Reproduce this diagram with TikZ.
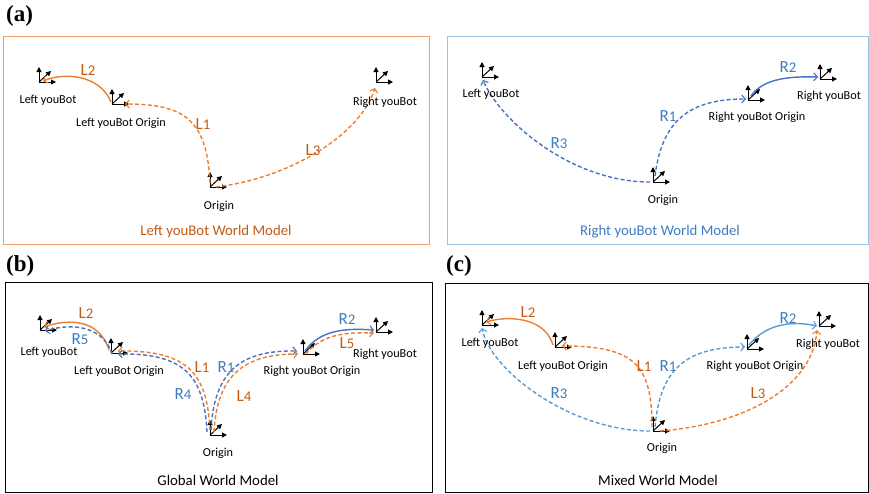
\documentclass[tikz,border=0pt]{standalone}
\usepackage{fontspec}
\setmainfont{Carlito}
\newfontfamily\panelfont{Liberation Serif}
\usetikzlibrary{arrows.meta,calc}
\definecolor{lor}{HTML}{ED7D31}
\definecolor{lort}{HTML}{C55A11}
\definecolor{lbl}{HTML}{4472C4}
\definecolor{lblt}{HTML}{3D7CC2}
\definecolor{lbc}{HTML}{5B9BD5}
\definecolor{lborder}{HTML}{F0A06A}
\definecolor{bborder}{HTML}{9DC3E6}
\newcommand\plab[2]{#1{\fontsize{14.8}{14.8}\selectfont #2}}
\tikzset{
  farrow/.style={line width=1pt,-{Triangle[length=5pt,width=5pt]}},
  frm/.pic={\draw[farrow] (0,0)--(0,-15); \draw[farrow] (0,0)--(17,0); \draw[farrow] (0,0)--(12,-11);},
  tip/.style={-{Straight Barb[length=3.5pt,width=8pt,line width=1.1pt]}},
  solidc/.style={line width=1.4pt,tip},
  dashc/.style={line width=1.4pt,dash pattern=on 4pt off 2.4pt,tip},
  lab/.style={font=\fontsize{12.2}{13}\selectfont,text=black,inner sep=0pt},
  plabel/.style={font=\fontsize{17}{17}\selectfont,inner sep=0pt},
  title/.style={font=\fontsize{14.8}{15}\selectfont,inner sep=0pt},
  panel/.style={font=\panelfont\bfseries\fontsize{23}{23}\selectfont,inner sep=0pt,anchor=west}
}
\begin{document}
\begin{tikzpicture}[x=1pt,y=-1pt]
\useasboundingbox (0,0) rectangle (869,493);
% panel letters
\node[panel] (pa) at (6,16) {(a)};
\node[panel] (pb) at (6,266) {(b)};
\node[panel] (pc) at (446,266) {(c)};
% ---------------- panel (a) left
\draw[lborder,line width=1pt] (3,36) rectangle (429,244);
\coordinate (aLY) at (39,82);
\coordinate (aLYO) at (112,104);
\coordinate (aO) at (210,187);
\coordinate (aRY) at (376,82);
\foreach \c in {aLY,aLYO,aO,aRY} \pic at (\c) {frm};
\draw[lor,solidc] ($(aLYO)+(-1,-2)$) .. controls (100,75) and (65,72) .. ($(aLY)+(4,-1)$);
\draw[lor,dashc] ($(aO)+(0,-4)$) .. controls (207,120) and (185,104) .. ($(aLYO)+(13,0)$);
\draw[lor,dashc] ($(aO)+(6,0)$) .. controls (290,178) and (360,135) .. ($(aRY)+(-1,6)$);
\node[lab] (aLYt) at (48,100) {Left youBot};
\node[lab] (aLYOt) at (121,123) {Left youBot Origin};
\node[lab] (aOt) at (219,206) {Origin};
\node[lab] (aRYt) at (385,102) {Right youBot};
\node[plabel,text=lort] (aL2) at (88,70) {\plab{L}{2}};
\node[plabel,text=lort] (aL1) at (203,124) {\plab{L}{1}};
\node[plabel,text=lort] (aL3) at (313,150) {\plab{L}{3}};
\node[title,text=lort] (aT) at (216,232) {Left youBot World Model};
% ---------------- panel (a) right
\draw[bborder,line width=1pt] (447,36) rectangle (868,244);
\coordinate (rLY) at (482,77);
\coordinate (rRYO) at (748,100);
\coordinate (rRY) at (820,79);
\coordinate (rO) at (653,182);
\foreach \c in {rLY,rRYO,rRY,rO} \pic at (\c) {frm};
\draw[lbl,solidc] ($(rRYO)+(3,-4)$) .. controls (762,80) and (785,76) .. ($(rRY)+(-2,-2)$);
\draw[lbl,dashc] ($(rO)+(2,-6)$) .. controls (662,120) and (690,99) .. ($(rRYO)+(-2,-1)$);
\draw[lbl,dashc] ($(rO)+(-3,0)$) .. controls (570,182) and (500,120) .. ($(rLY)+(1,3)$);
\node[lab] (rLYt) at (491,94) {Left youBot};
\node[lab] (rRYOt) at (757,117) {Right youBot Origin};
\node[lab] (rRYt) at (829,96) {Right youBot};
\node[lab] (rOt) at (663,200) {Origin};
\node[plabel,text=lblt] (rR2) at (788,67) {\plab{R}{2}};
\node[plabel,text=lblt] (rR1) at (668,116) {\plab{R}{1}};
\node[plabel,text=lblt] (rR3) at (559,143) {\plab{R}{3}};
\node[title,text=lblt] (rT) at (660,232) {Right youBot World Model};
% ---------------- panel (b)
\draw[black,line width=0.9pt] (5,282) rectangle (432,492);
\coordinate (gLY) at (40,330);
\coordinate (gLYO) at (111,353);
\coordinate (gO) at (210,435);
\coordinate (gRYO) at (303,354);
\coordinate (gRY) at (376,332);
\foreach \c in {gLY,gLYO,gO,gRYO,gRY} \pic at (\c) {frm};
\draw[lor,solidc] ($(gLYO)+(-2,-3)$) .. controls (100,320) and (70,318) .. ($(gLY)+(4,-3)$);
\draw[lbl,dashc] ($(gLYO)+(1,1)$) .. controls (103,325) and (70,323) .. ($(gLY)+(5,1)$);
\draw[lor,dashc] ($(gO)+(0,-5)$) .. controls (207,375) and (190,350) .. ($(gLYO)+(7,-2)$);
\draw[lbl,dashc] ($(gO)+(-3,-3)$) .. controls (204,378) and (187,353) .. ($(gLYO)+(7,1)$);
\draw[lbl,dashc] ($(gO)+(1,-5)$) .. controls (214,372) and (240,350) .. ($(gRYO)+(-6,-3)$);
\draw[lor,dashc] ($(gO)+(4,-3)$) .. controls (217,376) and (243,354) .. ($(gRYO)+(-5,0)$);
\draw[lbl,solidc] ($(gRYO)+(2,-3)$) .. controls (320,330) and (345,328) .. ($(gRY)+(-2,-2)$);
\draw[lor,dashc] ($(gRYO)+(3,0)$) .. controls (322,334) and (347,332) .. ($(gRY)+(-2,1)$);
\node[lab] (gLYt) at (49,352) {Left youBot};
\node[lab] (gLYOt) at (119,371) {Left youBot Origin};
\node[lab] (gOt) at (218,453) {Origin};
\node[lab] (gRYOt) at (312,371) {Right youBot Origin};
\node[lab] (gRYt) at (385,354) {Right youBot};
\node[plabel,text=lort] (gL2) at (86,313) {\plab{L}{2}};
\node[plabel,text=lblt] (gR5) at (80,339) {\plab{R}{5}};
\node[plabel,text=lort] (gL1) at (202,367) {\plab{L}{1}};
\node[plabel,text=lblt] (gR1) at (226,367) {\plab{R}{1}};
\node[plabel,text=lblt] (gR4) at (183,394) {\plab{R}{4}};
\node[plabel,text=lort] (gL4) at (244,396) {\plab{L}{4}};
\node[plabel,text=lblt] (gR2) at (347,319) {\plab{R}{2}};
\node[plabel,text=lort] (gL5) at (347,343) {\plab{L}{5}};
\node[title,text=black] (gT) at (218,480) {Global World Model};
% ---------------- panel (c)
\draw[black,line width=0.9pt] (445,283) rectangle (868,492);
\coordinate (mLY) at (482,325);
\coordinate (mLYO) at (555,347);
\coordinate (mO) at (653,431);
\coordinate (mRYO) at (747,349);
\coordinate (mRY) at (819,326);
\foreach \c in {mLY,mLYO,mO,mRYO,mRY} \pic at (\c) {frm};
\draw[lor,solidc] ($(mLYO)+(-2,-2)$) .. controls (545,318) and (510,315) .. ($(mLY)+(4,-3)$);
\draw[lor,dashc] ($(mO)+(-1,-4)$) .. controls (652,365) and (635,346) .. ($(mLYO)+(7,-1)$);
\draw[lbc,dashc] ($(mO)+(2,-4)$) .. controls (660,370) and (685,347) .. ($(mRYO)+(-2,-2)$);
\draw[lbc,dashc] ($(mO)+(-3,0)$) .. controls (570,431) and (490,370) .. ($(mLY)+(0,3)$);
\draw[lor,dashc] ($(mO)+(7,0)$) .. controls (740,425) and (812,390) .. ($(mRY)+(-2,4)$);
\draw[lbc,solidc] ($(mRYO)+(2,-4)$) .. controls (765,325) and (790,320) .. ($(mRY)+(-2,0)$);
\node[lab] (mLYt) at (490,343) {Left youBot};
\node[lab] (mLYOt) at (563,366) {Left youBot Origin};
\node[lab] (mOt) at (662,448) {Origin};
\node[lab] (mRYOt) at (755,366) {Right youBot Origin};
\node[lab] (mRYt) at (828,344) {Right youBot};
\node[plabel,text=lort] (mL2) at (528,312) {\plab{L}{2}};
\node[plabel,text=lort] (mL1) at (644,366) {\plab{L}{1}};
\node[plabel,text=lblt] (mR1) at (668,366) {\plab{R}{1}};
\node[plabel,text=lblt] (mR3) at (559,393) {\plab{R}{3}};
\node[plabel,text=lort] (mL3) at (758,393) {\plab{L}{3}};
\node[plabel,text=lblt] (mR2) at (788,318) {\plab{R}{2}};
\node[title,text=black] (mT) at (658,480) {Mixed World Model};
\end{tikzpicture}
\end{document}
